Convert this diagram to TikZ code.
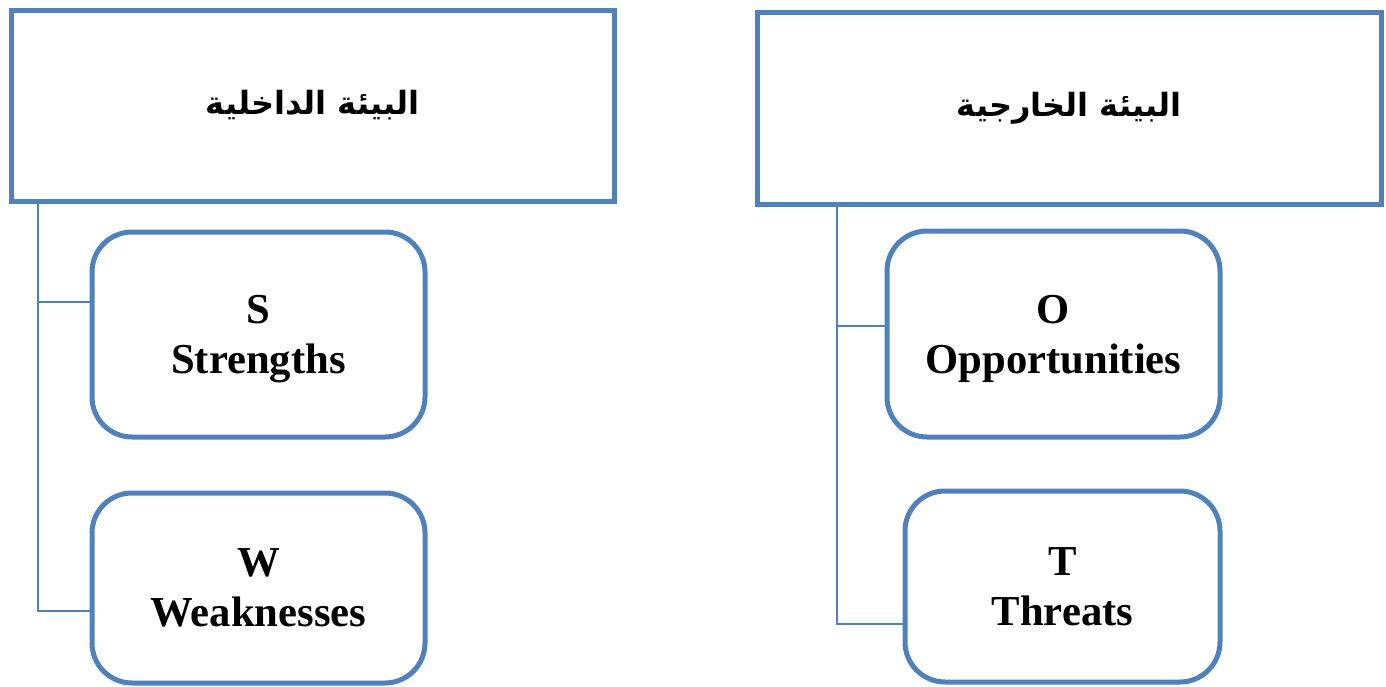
\documentclass[tikz,border=0pt]{standalone}
\usepackage{fontspec}
\setmainfont{Liberation Serif}
\newfontfamily\arabicfont[Script=Arabic]{DejaVu Sans}
\TeXXeTstate=1
\usetikzlibrary{calc}
\definecolor{swotblue}{RGB}{79,129,189}
\tikzset{every picture/.style={line width=0.75pt}}
\tikzset{
  envbox/.style={draw=swotblue, line width=3.75pt, inner sep=0pt, align=center,
    font=\arabicfont\bfseries\fontsize{24}{28}\selectfont},
  swotbox/.style={draw=swotblue, line width=3.75pt, rounded corners=30pt, inner sep=0pt,
    align=center, text depth=-2pt, font=\bfseries\fontsize{32}{37.5}\selectfont},
  conn/.style={draw=swotblue, line width=1.5pt}
}

\begin{document}
\begin{tikzpicture}[x=0.75pt,y=0.75pt,yscale=-1,xscale=1]
\useasboundingbox (0,0) rectangle (1386,686);

% Text Node
\node [envbox, minimum width=452.25pt, minimum height=143.25pt] (inner) at (312.5,105.5) {\beginR البيئة الداخلية\endR};
% Text Node
\node [envbox, minimum width=468pt, minimum height=144pt] (outer) at (1069,108) {\beginR البيئة الخارجية\endR};
% Text Node
\node [swotbox, minimum width=249.75pt, minimum height=153.75pt] (S) at (258.5,334.5) {S\\Strengths};
% Text Node
\node [swotbox, minimum width=249.75pt, minimum height=142.5pt] (W) at (258.5,588) {W\\Weaknesses};
% Text Node
\node [swotbox, minimum width=249.75pt, minimum height=154.5pt] (O) at (1053.5,334) {O\\Opportunities};
% Text Node
\node [swotbox, minimum width=236.25pt, minimum height=143.25pt] (T) at (1062.5,586.5) {T\\Threats};

\coordinate (lbus) at (38,611);
\coordinate (rbus) at (837,624);
\coordinate (sjoin) at ($(S.west)+(0,-32.5)$);
\coordinate (ojoin) at ($(O.west)+(0,-8)$);
% Connection
\draw [conn] (inner.south -| lbus) -- (lbus) -- (W.west |- lbus);
% Connection
\draw [conn] (sjoin -| lbus) -- (sjoin);
% Connection
\draw [conn] (outer.south -| rbus) -- (rbus) -- (T.west |- rbus);
% Connection
\draw [conn] (ojoin -| rbus) -- (ojoin);

\end{tikzpicture}
\end{document}
